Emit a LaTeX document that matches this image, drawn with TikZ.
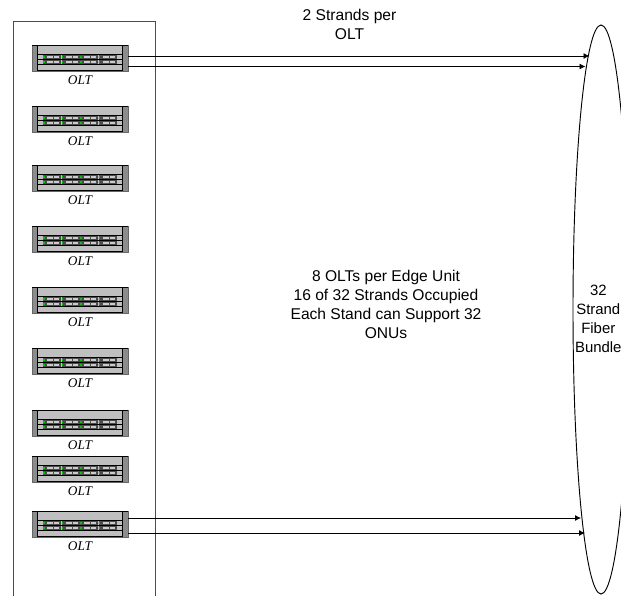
\documentclass[tikz,border=0pt]{standalone}
\usepackage{fontspec}
\setmainfont{Liberation Sans}
\newfontfamily\oltfont{Liberation Serif}
\usetikzlibrary{arrows.meta,shapes.geometric}
\tikzset{
  oltcase/.style={draw=black!60,fill=black!25,line width=0.5pt,minimum width=96*0.75pt,minimum height=26*0.75pt,inner sep=0pt},
  oltname/.style={font=\oltfont\itshape\fontsize{10}{12}\selectfont,inner sep=0pt},
  strand/.style={line width=0.6pt,-{Latex[length=4.5pt,width=4.5pt]}},
  caption/.style={align=center,font=\fontsize{11.7}{14.25}\selectfont,inner sep=0pt},
  pics/oltunit/.style={code={
    \node[oltcase] (-case) at (0,0) {};
    \fill[black!45] (-47.5,-12.5) rectangle (-43,12.5);
    \fill[black!45] (42.5,-12.5) rectangle (47.5,12.5);
    \draw[line width=0.6pt] (-48,-13) -- (48,-13) (-43,-13) -- (-43,12) -- (42.5,12) -- (42.5,-13);
    \draw[line width=0.4pt] (-43,-3.5) -- (42.5,-3.5) (-43,1) -- (42.5,1) (-43,6.3) -- (42.5,6.3);
    \foreach \col in {0,1,2,3}{
      \foreach \row in {-3.2,1.8}{
        \fill[black!70] (-36.7+\col*18.5,\row) rectangle (-19+\col*18.5,\row+4.2);
        \fill[green!80!black] (-36.7+\col*18.5,\row+1) rectangle (-35.2+\col*18.5,\row+3);
        \fill[black!20] (-33+\col*18.5,\row+1.2) rectangle (-27+\col*18.5,\row+2.8);
        \fill[black!20] (-26+\col*18.5,\row+1.2) rectangle (-21+\col*18.5,\row+2.8);
      }
    }
    \node[oltname] (-name) at (0,22) {OLT};
  }}
}
\begin{document}
\begin{tikzpicture}[x=0.75pt,y=-0.75pt]
\clip (0,0) rectangle (621,596);
\useasboundingbox (0,0) rectangle (621,596);
% edge unit and bundle
\node[draw=black!70,line width=0.7pt,minimum width=142*0.75pt,minimum height=600*0.75pt,inner sep=0pt] (rack) at (84,321) {};
\node[draw=black,ellipse,line width=0.7pt,minimum width=56*0.75pt,minimum height=569*0.75pt,inner sep=0pt] (bundle) at (601,309.5) {};
% OLT shelves
\pic (olta) at (80,58) {oltunit};
\pic (oltb) at (80,119) {oltunit};
\pic (oltc) at (80,178) {oltunit};
\pic (oltd) at (80,239) {oltunit};
\pic (olte) at (80,300) {oltunit};
\pic (oltf) at (80,361) {oltunit};
\pic (oltg) at (80,423) {oltunit};
\pic (olth) at (80,469) {oltunit};
\pic (olti) at (80,524) {oltunit};
% strands
\coordinate (tipa) at (589.5,56);
\coordinate (tipb) at (585.5,66.5);
\coordinate (tipc) at (581,518);
\coordinate (tipd) at (585,533);
\draw[strand] (olta-case.east |- tipa) -- (tipa);
\draw[strand] (olta-case.east |- tipb) -- (tipb);
\draw[strand] (olti-case.east |- tipc) -- (tipc);
\draw[strand] (olti-case.east |- tipd) -- (tipd);
% labels
\node[caption] (strandnote) at (349.5,24.5) {2 Strands per\\OLT};
\node[caption] (unitnote) at (386,304.5) {8 OLTs per Edge Unit\\16 of 32 Strands Occupied\\Each Stand can Support 32\\ONUs};
\node[caption,font=\fontsize{11.2}{14.25}\selectfont] (bundlenote) at (598.3,318.5) {32\\Strand\\Fiber\\Bundle};
\end{tikzpicture}
\end{document}
